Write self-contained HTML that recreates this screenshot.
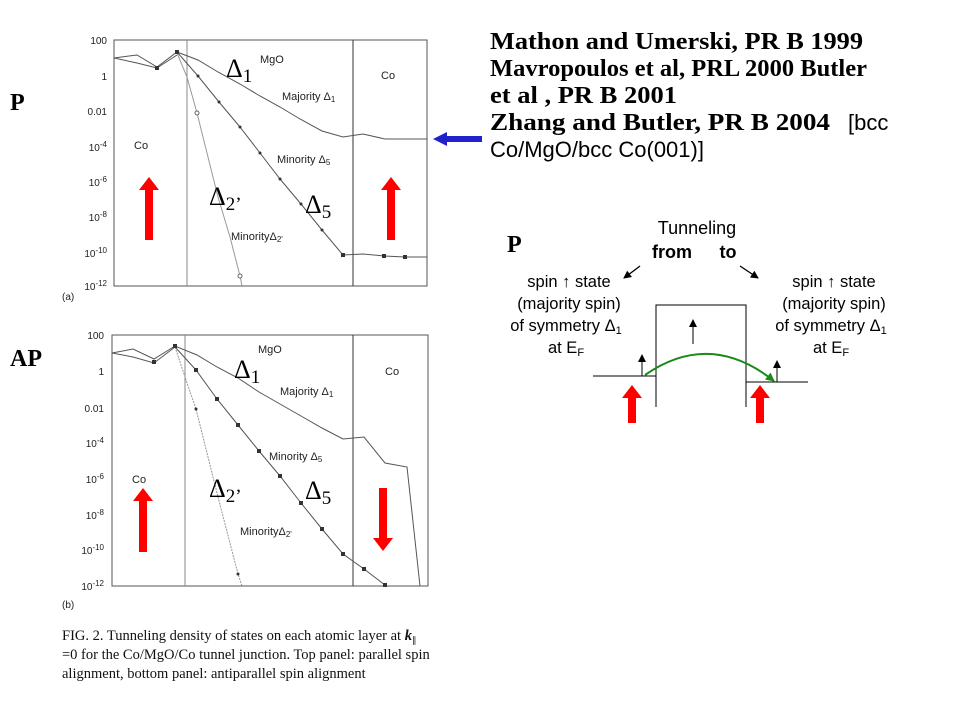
<!DOCTYPE html>
<html><head><meta charset="utf-8"><style>
html,body{margin:0;padding:0;background:#fff;}
svg{display:block;}
.ax{font-family:"Liberation Sans",sans-serif;font-size:10px;fill:#222;}
.lb{font-family:"Liberation Sans",sans-serif;font-size:11px;fill:#222;}
.dl{font-family:"Liberation Serif",serif;font-size:26px;fill:#000;}
.cit{font-family:"Liberation Serif",serif;font-size:24px;font-weight:bold;fill:#000;}
.ss{font-family:"Liberation Sans",sans-serif;fill:#000;}
.cap{font-family:"Liberation Serif",serif;font-size:14.5px;fill:#111;}
</style></head><body>
<svg width="960" height="720" viewBox="0 0 960 720" xmlns="http://www.w3.org/2000/svg">
<defs>
<marker id="ah" markerWidth="8" markerHeight="8" refX="7" refY="4" orient="auto" markerUnits="userSpaceOnUse"><path d="M0,0 L8,4 L0,8 z" fill="#000"/></marker>
<marker id="ahg" markerWidth="9" markerHeight="9" refX="8" refY="4.5" orient="auto" markerUnits="userSpaceOnUse"><path d="M0,0 L9,4.5 L0,9 z" fill="#1a8a1a"/></marker>
</defs>

<!-- TOP PANEL -->
<rect x="114" y="40" width="313" height="246" fill="none" stroke="#555" stroke-width="1"/>
<line x1="187" y1="40" x2="187" y2="286" stroke="#888"/>
<line x1="353" y1="40" x2="353" y2="286" stroke="#333"/>
<g class="ax" text-anchor="end">
<text x="107" y="44">100</text><text x="107" y="80">1</text><text x="107" y="115">0.01</text>
<text x="107" y="151">10<tspan dy="-4" font-size="8">-4</tspan></text>
<text x="107" y="186">10<tspan dy="-4" font-size="8">-6</tspan></text>
<text x="107" y="221">10<tspan dy="-4" font-size="8">-8</tspan></text>
<text x="107" y="257">10<tspan dy="-4" font-size="8">-10</tspan></text>
<text x="107" y="290">10<tspan dy="-4" font-size="8">-12</tspan></text>
</g>
<text class="ax" x="62" y="300">(a)</text>
<g fill="none" stroke="#555" stroke-width="1">
<polyline points="114,58 137,55 157,67 177,52 198,60 218,72 240,84 260,96 280,107 300,119 322,131 343,137 363,134 385,139 407,139 427,139"/>
<polyline points="114,58 137,63 157,68 177,55"/>
<polyline points="177,52 198,76 219,102 240,127 260,153 280,179 301,204 322,230 343,255 363,254 384,256 405,257 427,257"/>
<polyline stroke="#999" points="177,53 187,77 197,113 207,153 218,197 230,237 240,276 242,286"/>
</g>
<g fill="#333">
<circle cx="198" cy="76" r="1.5"/><circle cx="219" cy="102" r="1.5"/><circle cx="240" cy="127" r="1.5"/><circle cx="260" cy="153" r="1.5"/><circle cx="280" cy="179" r="1.5"/><circle cx="301" cy="204" r="1.5"/><circle cx="322" cy="230" r="1.5"/><rect x="341" y="253" width="4" height="4"/><rect x="382" y="254" width="4" height="4"/><rect x="403" y="255" width="4" height="4"/><rect x="175" y="50" width="4" height="4"/><rect x="155" y="66" width="4" height="4"/>
</g>
<circle cx="197" cy="113" r="2" fill="#fff" stroke="#666"/><circle cx="240" cy="276" r="2" fill="#fff" stroke="#666"/>
<g class="lb"><text x="260" y="63">MgO</text><text x="381" y="79">Co</text><text x="134" y="149">Co</text>
<text x="282" y="100">Majority Δ<tspan font-size="8" dy="2">1</tspan></text>
<text x="277" y="163">Minority Δ<tspan font-size="8" dy="2">5</tspan></text>
<text x="231" y="240">MinorityΔ<tspan font-size="8" dy="2">2'</tspan></text></g>
<text class="dl" x="226" y="77">Δ<tspan font-size="19" dy="5">1</tspan></text>
<text class="dl" x="209" y="205">Δ<tspan font-size="19" dy="5">2’</tspan></text>
<text class="dl" x="305" y="213">Δ<tspan font-size="19" dy="5">5</tspan></text>
<g fill="#f00">
<polygon points="145,240 153,240 153,190 159,190 149,177 139,190 145,190"/>
<polygon points="387,240 395,240 395,190 401,190 391,177 381,190 387,190"/>
</g>

<!-- BOTTOM PANEL -->
<rect x="112" y="335" width="316" height="251" fill="none" stroke="#555"/>
<line x1="185" y1="335" x2="185" y2="586" stroke="#888"/>
<line x1="353" y1="335" x2="353" y2="586" stroke="#333"/>
<g class="ax" text-anchor="end">
<text x="104" y="339">100</text><text x="104" y="375">1</text><text x="104" y="412">0.01</text>
<text x="104" y="447">10<tspan dy="-4" font-size="8">-4</tspan></text>
<text x="104" y="483">10<tspan dy="-4" font-size="8">-6</tspan></text>
<text x="104" y="519">10<tspan dy="-4" font-size="8">-8</tspan></text>
<text x="104" y="554">10<tspan dy="-4" font-size="8">-10</tspan></text>
<text x="104" y="590">10<tspan dy="-4" font-size="8">-12</tspan></text>
</g>
<text class="ax" x="62" y="608">(b)</text>
<g fill="none" stroke="#555">
<polyline points="112,353 133,349 154,359 175,346 197,355 217,367 238,378 259,392 280,404 301,416 322,428 343,439 364,437 385,463 407,467 420,586"/>
<polyline points="112,353 133,357 154,363 175,347"/>
<polyline points="175,347 196,370 217,399 238,425 259,451 280,476 301,503 322,529 343,554 364,569 385,585"/>
<polyline stroke="#999" stroke-dasharray="2,1" points="175,347 185,377 196,409 217,493 238,574 242,586"/>
</g>
<g fill="#333">
<rect x="194" y="368" width="4" height="4"/><rect x="215" y="397" width="4" height="4"/><rect x="236" y="423" width="4" height="4"/><rect x="257" y="449" width="4" height="4"/><rect x="278" y="474" width="4" height="4"/><rect x="299" y="501" width="4" height="4"/><rect x="320" y="527" width="4" height="4"/><rect x="341" y="552" width="4" height="4"/><rect x="362" y="567" width="4" height="4"/><rect x="383" y="583" width="4" height="4"/><rect x="173" y="344" width="4" height="4"/><rect x="152" y="360" width="4" height="4"/><circle cx="196" cy="409" r="1.5"/><circle cx="238" cy="574" r="1.5"/>
</g>
<g class="lb"><text x="258" y="353">MgO</text><text x="385" y="375">Co</text><text x="132" y="483">Co</text>
<text x="280" y="395">Majority Δ<tspan font-size="8" dy="2">1</tspan></text>
<text x="269" y="460">Minority Δ<tspan font-size="8" dy="2">5</tspan></text>
<text x="240" y="535">MinorityΔ<tspan font-size="8" dy="2">2'</tspan></text></g>
<text class="dl" x="234" y="378">Δ<tspan font-size="19" dy="5">1</tspan></text>
<text class="dl" x="209" y="497">Δ<tspan font-size="19" dy="5">2’</tspan></text>
<text class="dl" x="305" y="499">Δ<tspan font-size="19" dy="5">5</tspan></text>
<g fill="#f00">
<polygon points="139,552 147,552 147,501 153,501 143,488 133,501 139,501"/>
<polygon points="379,488 387,488 387,538 393,538 383,551 373,538 379,538"/>
</g>

<!-- caption -->
<g class="cap">
<text x="62" y="640">FIG. 2. Tunneling density of states on each atomic layer at <tspan font-style="italic" font-weight="bold">k</tspan><tspan font-size="9" dy="3">∥</tspan></text>
<text x="62" y="659">=0 for the Co/MgO/Co tunnel junction. Top panel: parallel spin</text>
<text x="62" y="678">alignment, bottom panel: antiparallel spin alignment</text>
</g>

<text class="cit" x="10" y="110">P</text>
<text class="cit" x="10" y="366">AP</text>

<!-- citations -->
<text class="cit" x="490" y="49" textLength="373" lengthAdjust="spacingAndGlyphs">Mathon and Umerski, PR B 1999</text>
<text class="cit" x="490" y="76" textLength="377" lengthAdjust="spacingAndGlyphs">Mavropoulos et al, PRL 2000 Butler</text>
<text class="cit" x="490" y="103" textLength="187" lengthAdjust="spacingAndGlyphs">et al , PR B 2001</text>
<text class="cit" x="490" y="130" textLength="340" lengthAdjust="spacingAndGlyphs">Zhang and Butler, PR B 2004</text>
<text class="ss" font-size="22" x="848" y="130">[bcc</text>
<text class="ss" font-size="22" x="490" y="157">Co/MgO/bcc Co(001)]</text>
<polygon points="433,139 447,132 447,136 482,136 482,142 447,142 447,146" fill="#2222cc"/>

<!-- right diagram -->
<text class="cit" x="507" y="252">P</text>
<text class="ss" font-size="18" x="697" y="234" text-anchor="middle">Tunneling</text>
<text class="ss" font-size="18" font-weight="bold" x="672" y="258" text-anchor="middle">from</text>
<text class="ss" font-size="18" font-weight="bold" x="728" y="258" text-anchor="middle">to</text>
<line x1="640" y1="266" x2="624" y2="278" stroke="#000" stroke-width="1.3" marker-end="url(#ah)"/>
<line x1="740" y1="266" x2="758" y2="278" stroke="#000" stroke-width="1.3" marker-end="url(#ah)"/>
<g class="ss" font-size="16.5" text-anchor="middle">
<text x="569" y="287">spin ↑ state</text><text x="569" y="309">(majority spin)</text>
<text x="566" y="331">of symmetry Δ<tspan font-size="11" dy="3">1</tspan></text>
<text x="566" y="353">at E<tspan font-size="11" dy="3">F</tspan></text>
<text x="834" y="287">spin ↑ state</text><text x="834" y="309">(majority spin)</text>
<text x="831" y="331">of symmetry Δ<tspan font-size="11" dy="3">1</tspan></text>
<text x="831" y="353">at E<tspan font-size="11" dy="3">F</tspan></text>
</g>
<g stroke="#000" stroke-width="1" fill="none">
<polyline points="593,376 656,376 656,407"/>
<polyline points="656,376 656,305 746,305 746,407"/>
<line x1="746" y1="382" x2="808" y2="382"/>
</g>
<line x1="642" y1="376" x2="642" y2="355" stroke="#000" marker-end="url(#ah)"/>
<line x1="693" y1="344" x2="693" y2="320" stroke="#000" marker-end="url(#ah)"/>
<line x1="777" y1="382" x2="777" y2="361" stroke="#000" marker-end="url(#ah)"/>
<path d="M645,375 Q710,330 774,381" fill="none" stroke="#1a8a1a" stroke-width="2" marker-end="url(#ahg)"/>
<g fill="#f00">
<polygon points="628,423 636,423 636,398 642,398 632,385 622,398 628,398"/>
<polygon points="756,423 764,423 764,398 770,398 760,385 750,398 756,398"/>
</g>
</svg>
</body></html>
